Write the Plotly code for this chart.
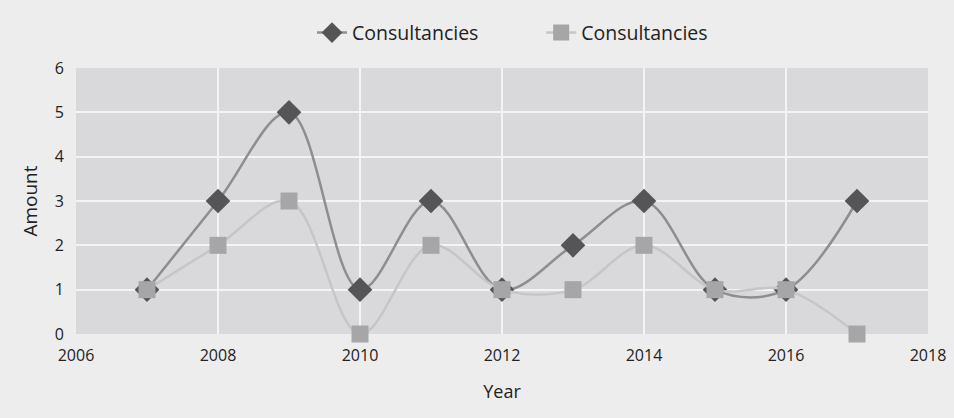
import plotly.graph_objects as go

years = [2007, 2008, 2009, 2010, 2011, 2012, 2013, 2014, 2015, 2016, 2017]
series_a = [1, 3, 5, 1, 3, 1, 2, 3, 1, 1, 3]
series_b = [1, 2, 3, 0, 2, 1, 1, 2, 1, 1, 0]
x_ticks = [2006, 2008, 2010, 2012, 2014, 2016, 2018]
y_ticks = [0, 1, 2, 3, 4, 5, 6]

font_family = "Open Sans, Noto Sans, sans-serif"

fig = go.Figure()
fig.add_trace(go.Scatter(
    x=years, y=series_a, name="Consultancies", mode="lines+markers",
    line=dict(color="#8e8e90", width=2.5, shape="spline", smoothing=1.0),
    marker=dict(symbol="diamond", size=19, color="#555557"),
    cliponaxis=False, legend="legend",
))
fig.add_trace(go.Scatter(
    x=years, y=series_b, name="Consultancies", mode="lines+markers",
    line=dict(color="#c6c6c8", width=2.5, shape="spline", smoothing=1.0),
    marker=dict(symbol="square", size=17, color="#a6a6a8"),
    cliponaxis=False, legend="legend2",
))
legend_common = dict(orientation="h", y=1.132, yanchor="middle", xanchor="left",
                     font=dict(size=19.5, color="#222222"), bgcolor="rgba(0,0,0,0)")
fig.update_layout(
    width=954, height=418,
    paper_bgcolor="#ededed", plot_bgcolor="#d9d9db",
    margin=dict(l=76, r=26, t=68, b=84, autoexpand=False),
    font=dict(family=font_family, size=16, color="#222222"),
    legend=dict(x=0.277, **legend_common),
    legend2=dict(x=0.546, **legend_common),
    showlegend=True,
)
fig.update_xaxes(range=[2006, 2018], tickvals=x_ticks, showgrid=True, gridcolor="#f4f4f4",
                 gridwidth=2, zeroline=False, showline=False, ticks="", automargin=False,
                 ticklabelstandoff=10,
                 title=dict(text="Year", font=dict(size=18), standoff=20))
fig.update_yaxes(range=[0, 6], tickvals=y_ticks, showgrid=True, gridcolor="#f4f4f4",
                 gridwidth=2, zeroline=False, showline=False, ticks="", automargin=False,
                 ticklabelstandoff=11,
                 title=dict(text="Amount", font=dict(size=19), standoff=12))
fig.write_html("out.html", config={"displayModeBar": False},
               post_script="document.body.style.margin='0';")
